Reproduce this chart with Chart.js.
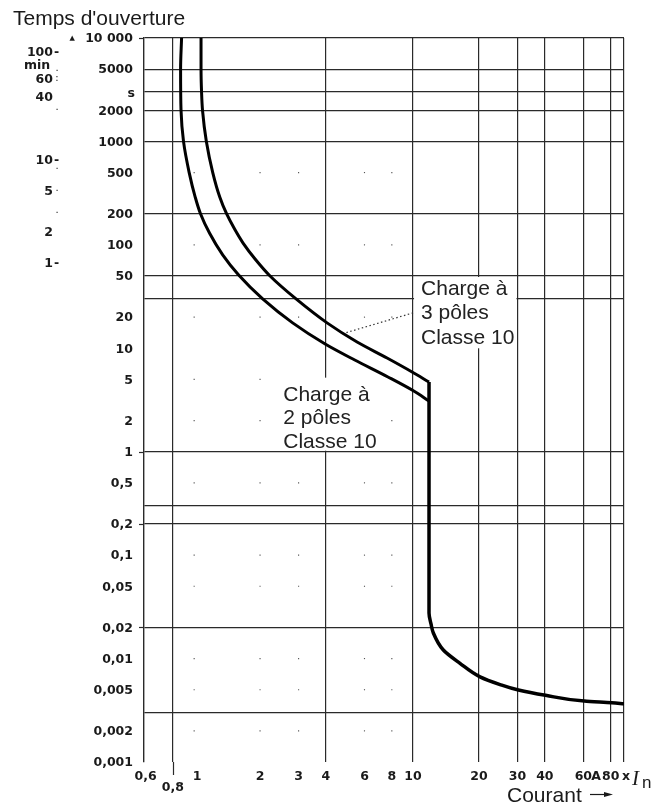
<!DOCTYPE html>
<html>
<head>
<meta charset="utf-8">
<script src="https://cdn.jsdelivr.net/npm/chart.js@4.4.0/dist/chart.umd.min.js"></script>
<style>
    html, body { margin: 0; padding: 0; background: #fff; }
    #wrap { width: 672px; height: 806px; }
</style>
</head>
<body>
<div id="wrap"><canvas id="tripChart" width="672" height="806"></canvas></div>
<script>
// Time axis (seconds): labelled ticks and horizontal grid lines
const timeTicks = [10000, 5000, 2000, 1000, 500, 200, 100, 50, 20, 10, 5, 2, 1, 0.5, 0.2, 0.1, 0.05, 0.02, 0.01, 0.005, 0.002, 0.001];
const timeGrid = [10000, 5000, 3000, 2000, 1000, 200, 50, 30, 1, 0.3, 0.2, 0.02, 0.003];
const timeStubs = [10000, 1, 0.2, 0.02];
// Minutes scale on the far left
const minuteTicks = [100, 60, 40, 10, 5, 2, 1];
const minuteDashes = [100, 10, 1];
const minuteDots = [30, 8, 3];

// Current axis (multiples of In)
const currentTicks = [0.6, 0.8, 1, 2, 3, 4, 6, 8, 10, 20, 30, 40, 60, 80];
const currentGrid = [0.8, 4, 10, 20, 30, 40, 60, 80, 92];
const currentMin = 0.59;
const currentMax = 92;

// Faint guide dots of the original paper
const dotCurrents = [1, 2, 3, 6, 8];
const dotTimes = [500, 100, 20, 5, 2, 0.5, 0.1, 0.05, 0.01, 0.005, 0.002];

// Charge à 3 pôles, Classe 10
const current3p = [1.075, 1.075, 1.081, 1.092, 1.137, 1.216, 1.309, 1.406, 1.53, 1.673, 1.898, 2.222, 2.921, 4.047, 5.55, 7.61, 9.9, 11.83];
const time3p = [10000, 5000, 3000, 2000, 1000, 500, 290, 200, 142, 104, 73, 50, 30, 17.6, 11.5, 8.05, 5.9, 4.72];

// Charge à 2 pôles, Classe 10
const current2p = [0.876, 0.867, 0.871, 0.894, 0.949, 1.011, 1.069, 1.175, 1.35, 1.597, 2.056, 2.818, 3.967, 5.416, 7.68, 10.08, 11.83];
const time2p = [10000, 5000, 2000, 1000, 500, 290, 200, 130, 80, 51, 30, 17.6, 11.0, 7.7, 5.28, 3.86, 3.09];

// Instantaneous release (common to both)
const currentInst = [11.83, 11.83, 12.08, 12.38, 13.75, 16.39, 20.23, 24.97, 30.3, 40.3, 60.6, 80.9, 92];
const timeInst = [4.72, 0.0276, 0.0216, 0.01768, 0.0121, 0.009, 0.00666, 0.00561, 0.00496, 0.00441, 0.00388, 0.00374, 0.00366];

const tickFont = 'bold 12.5px "DejaVu Sans"';
const labelFont = '21px "Liberation Sans"';
const gridColor = '#2a2a2a';

function toPoints(xs, ys) {
    return xs.map((x, i) => ({ x: x, y: ys[i] }));
}

function dotPoints() {
    const pts = [];
    dotTimes.forEach(t => dotCurrents.forEach(c => pts.push({ x: c, y: t })));
    return pts;
}

function formatTime(v) {
    if (v === 10000) return '10 000';
    return String(v).replace('.', ',');
}

// Curves are monotone in time, so interpolate along the time axis
function curve(label, xs, ys, width) {
    return {
        label: label,
        data: toPoints(xs, ys),
        indexAxis: 'y',
        borderColor: '#000',
        borderWidth: width,
        pointRadius: 0,
        fill: false,
        cubicInterpolationMode: 'monotone'
    };
}

// White boxes behind the curve labels, drawn over grid and dots
function drawLabelBoxes(chart) {
    const { ctx, scales: { x, y } } = chart;
    ctx.save();
    ctx.fillStyle = '#fff';
    const l3 = x.getPixelForValue(10) + 1;
    const r3 = x.getPixelForValue(30) - 1;
    const t3 = y.getPixelForValue(50) + 1;
    const b3 = y.getPixelForValue(10);
    ctx.fillRect(l3, t3, r3 - l3, b3 - t3);
    const l2 = x.getPixelForValue(2.5);
    const r2 = x.getPixelForValue(7);
    const t2 = y.getPixelForValue(5.2);
    const b2 = y.getPixelForValue(1) - 1;
    ctx.fillRect(l2, t2, r2 - l2, b2 - t2);

    // dotted leader from the 3-pole label to its curve
    ctx.strokeStyle = '#333';
    ctx.lineWidth = 1.2;
    ctx.setLineDash([1.5, 2.5]);
    ctx.beginPath();
    ctx.moveTo(x.getPixelForValue(10), y.getPixelForValue(22));
    ctx.lineTo(x.getPixelForValue(4.8), y.getPixelForValue(13.9));
    ctx.stroke();
    ctx.restore();
}

const decorPlugin = {
    id: 'decor',
    beforeDatasetsDraw(chart) {
        const { ctx, scales: { x, y } } = chart;
        ctx.save();
        ctx.strokeStyle = gridColor;
        ctx.lineWidth = 1.2;
        // small stubs left of the axis
        timeStubs.forEach(v => {
            const py = Math.round(y.getPixelForValue(v)) + 0.5;
            ctx.beginPath();
            ctx.moveTo(chart.chartArea.left - 5, py);
            ctx.lineTo(chart.chartArea.left, py);
            ctx.stroke();
        });
        // 0,8 line runs below the axis
        const px08 = Math.round(x.getPixelForValue(0.8)) + 0.5;
        ctx.beginPath();
        ctx.moveTo(px08, chart.chartArea.bottom);
        ctx.lineTo(px08, chart.chartArea.bottom + 13);
        ctx.stroke();
        ctx.restore();
    },
    afterDatasetDraw(chart, args) {
        // the dots dataset is drawn first; put the boxes right after it
        if (args.index === 3) drawLabelBoxes(chart);
    },
    afterDraw(chart) {
        const { ctx, scales: { x, y } } = chart;
        ctx.save();
        ctx.fillStyle = '#1a1a1a';

        // axis title
        ctx.font = labelFont;
        ctx.textAlign = 'left';
        ctx.textBaseline = 'alphabetic';
        ctx.fillText("Temps d'ouverture", 13, 25);

        // seconds labels
        ctx.font = tickFont;
        ctx.textAlign = 'right';
        ctx.textBaseline = 'middle';
        timeTicks.forEach(v => {
            ctx.fillText(formatTime(v), 133, y.getPixelForValue(v) + 1);
        });
        ctx.fillText('s', 135, 94);
        ctx.font = '7px "DejaVu Sans"';
        ctx.fillText('▲', 75, 38);

        // minutes labels
        ctx.font = tickFont;
        minuteTicks.forEach(m => {
            const py = y.getPixelForValue(m * 60) - (m === 100 ? 8 : 4);
            ctx.textAlign = 'right';
            ctx.fillText(String(m), 53, py);
            ctx.textAlign = 'left';
            if (minuteDashes.includes(m)) ctx.fillText('-', 54, py);
        });
        ctx.textAlign = 'center';
        ctx.fillText('min', 37, 66);
        ctx.font = '10px "DejaVu Sans"';
        ctx.fillText(':', 57, 78);
        ctx.fillText('.', 57, 68);
        ctx.fillText('.', 57, 188);
        minuteDots.forEach(m => {
            ctx.fillText('.', 57, y.getPixelForValue(m * 60) - 8);
        });

        // current labels
        ctx.font = tickFont;
        ctx.textAlign = 'center';
        currentTicks.forEach(v => {
            const py = v === 0.8 ? 788 : 777;
            const dx = v === 1 ? 3 : 0;
            ctx.fillText(String(v).replace('.', ','), x.getPixelForValue(v) + dx, py);
        });
        ctx.fillText('A', 596, 777);
        ctx.textAlign = 'left';
        ctx.fillText('x', 622, 777);
        ctx.font = 'italic 21px "Liberation Serif"';
        ctx.fillText('I', 632, 779);
        ctx.font = '17px "Liberation Sans"';
        ctx.fillText('n', 642, 783);

        // Courant with arrow
        ctx.font = labelFont;
        ctx.textAlign = 'left';
        ctx.fillText('Courant', 507, 796);
        ctx.strokeStyle = '#1a1a1a';
        ctx.lineWidth = 1.2;
        ctx.beginPath();
        ctx.moveTo(590, 794.5);
        ctx.lineTo(608, 794.5);
        ctx.stroke();
        ctx.beginPath();
        ctx.moveTo(613, 794.5);
        ctx.lineTo(604, 792);
        ctx.lineTo(604, 797);
        ctx.closePath();
        ctx.fill();

        // curve labels
        ctx.font = labelFont;
        ctx.textBaseline = 'alphabetic';
        ctx.fillStyle = '#222';
        const lx3 = x.getPixelForValue(10) + 8;
        const ly3 = y.getPixelForValue(50) + 19;
        ['Charge à', '3 pôles', 'Classe 10'].forEach((s, i) => ctx.fillText(s, lx3, ly3 + i * 24.5));
        const lx2 = x.getPixelForValue(2.5) + 2;
        const ly2 = y.getPixelForValue(5.2) + 23;
        ['Charge à', '2 pôles', 'Classe 10'].forEach((s, i) => ctx.fillText(s, lx2, ly2 + i * 23.5));
        ctx.restore();
    }
};

// Build the chart
function createTripChart() {
    const ctx = document.getElementById('tripChart').getContext('2d');
    new Chart(ctx, {
        type: 'line',
        data: {
            datasets: [
                curve('Charge à 3 pôles Classe 10', current3p, time3p, 3),
                curve('Charge à 2 pôles Classe 10', current2p, time2p, 3),
                curve('Déclenchement instantané', currentInst, timeInst, 3.5),
                {
                    label: 'Points',
                    data: dotPoints(),
                    showLine: false,
                    pointStyle: 'rect',
                    pointRadius: 0.8,
                    pointBorderWidth: 0,
                    pointBackgroundColor: '#555'
                }
            ]
        },
        options: {
            responsive: false,
            animation: false,
            devicePixelRatio: 1,
            layout: { padding: { left: 144, top: 38, right: 48, bottom: 44 } },
            plugins: {
                legend: { display: false },
                tooltip: { enabled: false }
            },
            scales: {
                x: {
                    type: 'logarithmic',
                    min: currentMin,
                    max: currentMax,
                    afterBuildTicks: axis => { axis.ticks = currentGrid.map(v => ({ value: v })); },
                    afterFit: axis => { axis.height = 0; },
                    ticks: { display: false },
                    border: { display: false },
                    grid: { color: gridColor, lineWidth: 1.2, drawTicks: false }
                },
                y: {
                    type: 'logarithmic',
                    min: 0.001,
                    max: 10000,
                    afterBuildTicks: axis => { axis.ticks = timeGrid.map(v => ({ value: v })); },
                    afterFit: axis => { axis.width = 0; },
                    ticks: { display: false },
                    border: { display: true, color: gridColor, width: 1.4 },
                    grid: { color: gridColor, lineWidth: 1.2, drawTicks: false }
                }
            }
        },
        plugins: [decorPlugin]
    });
}

document.addEventListener('DOMContentLoaded', createTripChart);
</script>
</body>
</html>
